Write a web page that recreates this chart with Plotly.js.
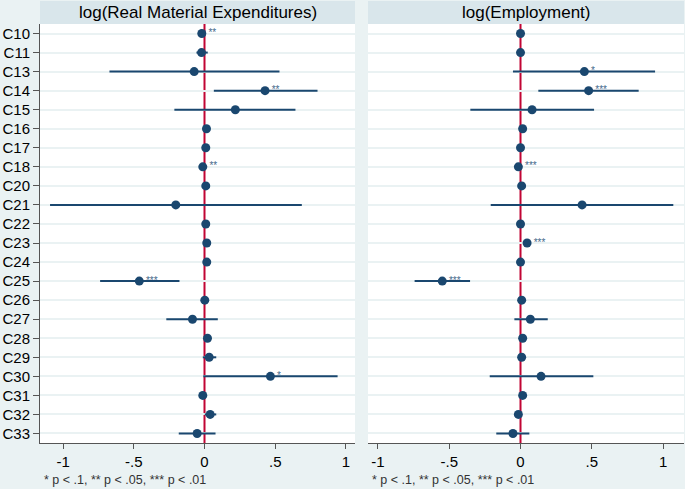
<!DOCTYPE html>
<html>
<head>
<meta charset="utf-8">
<script src="https://cdn.plot.ly/plotly-3.0.1.min.js"></script>
<style>
  body { margin: 0; background: #eaf2f3; }
  #plot { width: 685px; height: 489px; }
</style>
</head>
<body>
<div id="plot"></div>
<script>
// industries, top to bottom
let industries = ['C10', 'C11', 'C13', 'C14', 'C15', 'C16', 'C17', 'C18', 'C20', 'C21', 'C22',
  'C23', 'C24', 'C25', 'C26', 'C27', 'C28', 'C29', 'C30', 'C31', 'C32', 'C33']

// log(Real Material Expenditures)
let matEst = [-0.019, -0.021, -0.073, 0.428, 0.218, 0.014, 0.009, -0.012, 0.009, -0.203, 0.009,
  0.016, 0.016, -0.461, 0.002, -0.085, 0.021, 0.033, 0.466, -0.012, 0.040, -0.052]
let matLo = [-0.030, -0.057, -0.672, 0.066, -0.213, 0.004, -0.001, -0.022, -0.001, -1.092, -0.001,
  0.006, 0.006, -0.738, -0.008, -0.270, 0.011, -0.012, -0.009, -0.027, 0.002, -0.182]
let matHi = [-0.008, 0.023, 0.530, 0.799, 0.643, 0.024, 0.019, -0.002, 0.019, 0.688, 0.019,
  0.026, 0.026, -0.177, 0.012, 0.094, 0.031, 0.083, 0.941, 0.004, 0.083, 0.078]
let matStars = ['**', '', '', '**', '', '', '', '**', '', '', '',
  '', '', '***', '', '', '', '', '*', '', '', '']

// log(Employment)
let empEst = [0.000, 0.000, 0.448, 0.478, 0.081, 0.015, 0.000, -0.015, 0.008, 0.432, 0.000,
  0.046, 0.000, -0.549, 0.008, 0.069, 0.015, 0.008, 0.144, 0.015, -0.015, -0.053]
let empLo = [-0.010, -0.010, -0.053, 0.125, -0.352, 0.005, -0.010, -0.025, -0.002, -0.209, -0.010,
  0.036, -0.010, -0.743, -0.002, -0.043, 0.005, -0.002, -0.216, 0.005, -0.025, -0.170]
let empHi = [0.010, 0.010, 0.944, 0.829, 0.516, 0.025, 0.010, -0.005, 0.018, 1.072, 0.010,
  0.056, 0.010, -0.354, 0.018, 0.191, 0.025, 0.018, 0.511, 0.025, -0.005, 0.062]
let empStars = ['', '', '*', '***', '', '', '', '***', '', '', '',
  '***', '', '***', '', '', '', '', '', '', '', '']

let panelTitles = ['log(Real Material Expenditures)', 'log(Employment)']
let tickVals = [-1, -0.5, 0, 0.5, 1]
let tickText = ['-1', '-.5', '0', '.5', '1']
let note = '* p < .1, ** p < .05, *** p < .01'

const navy = '#1a476f'
const font = 'Liberation Sans, Arial, sans-serif'

const makeTrace = (est, lo, hi, stars, xa, ya) => {
  return {
    x: est,
    y: industries,
    xaxis: xa,
    yaxis: ya,
    type: 'scatter',
    mode: 'markers+text',
    text: stars,
    textposition: 'middle right',
    textfont: { family: font, size: 10, color: '#44698c' },
    marker: { color: navy, size: 9 },
    error_x: {
      type: 'data',
      symmetric: false,
      array: hi.map((h, i) => h - est[i]),
      arrayminus: lo.map((l, i) => est[i] - l),
      color: navy,
      thickness: 2,
      width: 0
    },
    cliponaxis: false,
    hoverinfo: 'x+y',
    showlegend: false
  }
}

let data = [
  makeTrace(matEst, matLo, matHi, matStars, 'x', 'y'),
  makeTrace(empEst, empLo, empHi, empStars, 'x2', 'y2')
]

const plotH = 419
const stripTop = 1 + 23 / plotH
const dom1 = [0, 315 / 644]
const dom2 = [328 / 644, 1]

const xAxis = (domain, range, anchor) => {
  return {
    domain: domain,
    range: range,
    anchor: anchor,
    tickvals: tickVals,
    ticktext: tickText,
    ticks: 'outside',
    ticklen: 5,
    tickcolor: '#555',
    showline: true,
    linecolor: '#555',
    linewidth: 1,
    showgrid: false,
    zeroline: false,
    tickfont: { family: font, size: 15, color: '#000' }
  }
}

const yAxis = (anchor, labels) => {
  return {
    anchor: anchor,
    type: 'category',
    categoryarray: industries,
    range: [21.5, -0.5],
    showgrid: true,
    gridcolor: '#eaf2f3',
    gridwidth: 2,
    zeroline: false,
    showline: labels,
    linecolor: '#555',
    linewidth: 1,
    ticks: labels ? 'outside' : '',
    ticklen: 6,
    tickcolor: '#555',
    showticklabels: labels,
    tickfont: { family: font, size: 15, color: '#000' }
  }
}

let shapes = []
let annotations = []
let doms = [dom1, dom2]
let xrefs = ['x', 'x2']
for (let i = 0; i < 2; i++) {
  // header strip
  shapes.push({
    type: 'rect', xref: 'paper', yref: 'paper',
    x0: doms[i][0], x1: doms[i][1], y0: 1, y1: stripTop,
    fillcolor: '#d9e6eb', line: { width: 0 }, layer: 'below'
  })
  // reference line at zero
  shapes.push({
    type: 'line', xref: xrefs[i], yref: 'paper',
    x0: 0, x1: 0, y0: 0, y1: 1,
    line: { color: '#c10534', width: 2 }, layer: 'between'
  })
  annotations.push({
    text: panelTitles[i], xref: 'paper', yref: 'paper',
    x: (doms[i][0] + doms[i][1]) / 2, y: (1 + stripTop) / 2,
    xanchor: 'center', yanchor: 'middle', showarrow: false,
    font: { family: font, size: 17, color: '#000' }
  })
  annotations.push({
    text: note, xref: 'paper', yref: 'paper',
    x: doms[i][0] + 2 / 644, y: -37 / plotH,
    xanchor: 'left', yanchor: 'middle', showarrow: false,
    font: { family: font, size: 12.5, color: '#333' }
  })
}

Plotly.newPlot('plot', data, {
  width: 685,
  height: 489,
  margin: { l: 40, r: 1, t: 24, b: 46 },
  paper_bgcolor: '#eaf2f3',
  plot_bgcolor: '#ffffff',
  xaxis: xAxis(dom1, [-1.163, 1.064], 'y'),
  xaxis2: xAxis(dom2, [-1.07, 1.147], 'y2'),
  yaxis: yAxis('x', true),
  yaxis2: yAxis('x2', false),
  shapes: shapes,
  annotations: annotations,
  hovermode: 'closest'
}, {
  displayModeBar: false
});
</script>
</body>
</html>
